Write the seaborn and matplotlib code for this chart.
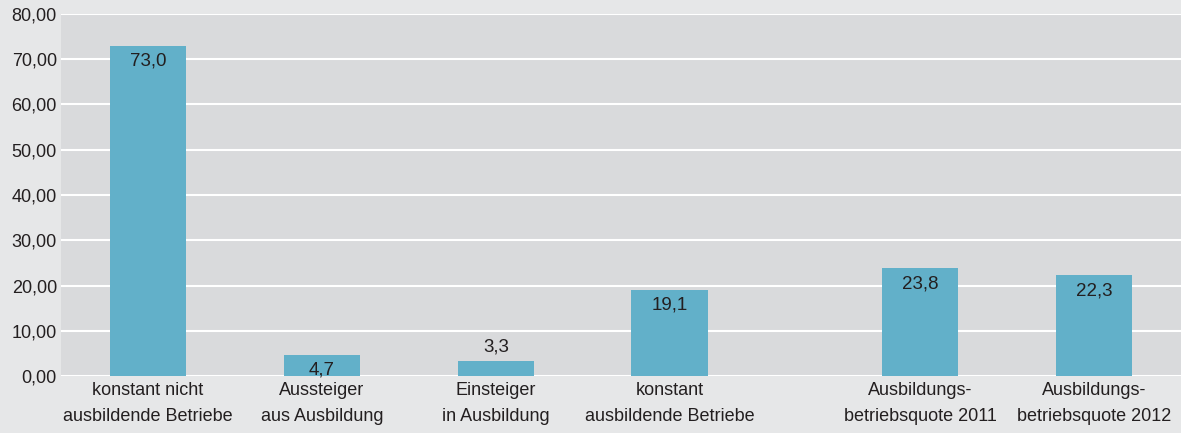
import matplotlib.pyplot as plt
from matplotlib.ticker import FuncFormatter
import seaborn as sns
import pandas as pd

# Daten ----------------------------------------------------------------
kategorien = ['konstant nicht\nausbildende Betriebe',
              'Aussteiger\naus Ausbildung',
              'Einsteiger\nin Ausbildung',
              'konstant\nausbildende Betriebe',
              'Ausbildungs-\nbetriebsquote 2011',
              'Ausbildungs-\nbetriebsquote 2012']
werte = [73.0, 4.7, 3.3, 19.1, 23.8, 22.3]
# Position auf der x-Achse (Luecke vor den Quoten)
positionen = [0, 1, 2, 3, 4.44, 5.44]

df = pd.DataFrame({'pos': positionen, 'wert': werte})

sns.set_theme(style='darkgrid')
plt.rcParams['font.family'] = ['Liberation Sans', 'DejaVu Sans']

fig = plt.figure(figsize=(11.81, 4.33), dpi=100, facecolor='#e6e7e8')
ax = fig.add_axes([0.0517, 0.1316, 0.9483, 0.8361])
ax.set_facecolor('#d9dadc')

sns.barplot(data=df, x='pos', y='wert', native_scale=True, width=0.44,
            color='#62b0c9', saturation=1, linewidth=0, ax=ax)

# Werte an die Balken schreiben
for x, v in zip(positionen, werte):
    txt = f'{v:.1f}'.replace('.', ',')
    if v < 4:
        ax.annotate(txt, (x, v), xytext=(0, 4), textcoords='offset points',
                    ha='center', va='bottom', fontsize=13.5, color='#231f20')
    else:
        ax.annotate(txt, (x, v), xytext=(0, -5), textcoords='offset points',
                    ha='center', va='top', fontsize=13.5, color='#231f20')

ax.set_xlim(-0.5, 5.94)
ax.set_ylim(0, 80)
ax.set_yticks(range(0, 81, 10))
ax.yaxis.set_major_formatter(FuncFormatter(lambda v, p: f'{v:.2f}'.replace('.', ',')))
ax.set_xticks(positionen)
ax.set_xticklabels(kategorien, linespacing=1.75)
ax.tick_params(axis='both', length=0, labelsize=13, colors='#231f20', pad=3)
ax.tick_params(axis='x', pad=4)
ax.grid(axis='y', color='white', linewidth=1.5)
ax.grid(axis='x', visible=False)
ax.set_xlabel('')
ax.set_ylabel('')
for s in ax.spines.values():
    s.set_visible(False)

fig.savefig('out.png', dpi=100, facecolor=fig.get_facecolor())
